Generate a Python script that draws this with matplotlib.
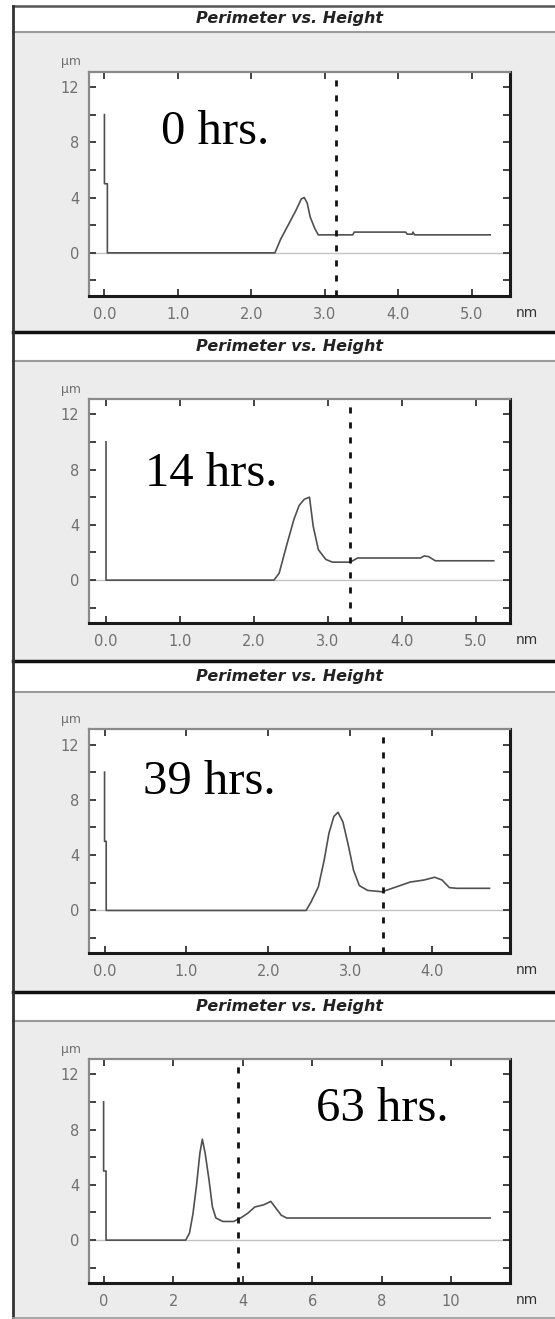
import matplotlib
matplotlib.use("Agg")
import matplotlib.pyplot as plt
from matplotlib.patches import Rectangle
from matplotlib.lines import Line2D

W, H = 555, 1319

# ---- data ----
labels_hrs = ["0 hrs.", "14 hrs.", "39 hrs.", "63 hrs."]

x0 = [0, 0, 0.04, 0.04, 2.32, 2.40, 2.50, 2.60, 2.68, 2.72, 2.76, 2.80, 2.86, 2.91,
      3.38, 3.40, 4.10, 4.12, 4.19, 4.20, 4.22, 5.25]
y0 = [10, 5, 5, 0, 0, 1.0, 2.0, 3.0, 3.9, 4.0, 3.6, 2.6, 1.8, 1.3,
      1.3, 1.5, 1.5, 1.35, 1.35, 1.5, 1.3, 1.3]

x14 = [0, 0, 2.27, 2.34, 2.44, 2.54, 2.61, 2.68, 2.75, 2.80, 2.87, 2.97, 3.06,
       3.30, 3.40, 4.25, 4.30, 4.36, 4.45, 5.24]
y14 = [10, 0, 0, 0.5, 2.5, 4.4, 5.4, 5.85, 6.0, 3.9, 2.2, 1.5, 1.3,
       1.3, 1.6, 1.6, 1.75, 1.7, 1.4, 1.4]

x39 = [0, 0, 0.02, 0.02, 2.46, 2.52, 2.61, 2.68, 2.74, 2.80, 2.85, 2.91, 2.98, 3.04,
       3.11, 3.21, 3.39, 3.56, 3.73, 3.90, 4.03, 4.12, 4.21, 4.30, 4.70]
y39 = [10, 5, 5, 0, 0, 0.6, 1.7, 3.6, 5.6, 6.8, 7.1, 6.4, 4.6, 2.9,
       1.8, 1.45, 1.35, 1.7, 2.05, 2.2, 2.4, 2.2, 1.65, 1.6, 1.6]

x63 = [0, 0, 0.07, 0.07, 2.36, 2.47, 2.57, 2.67, 2.77, 2.84, 2.92, 3.03, 3.13, 3.23,
       3.43, 3.74, 3.94, 4.15, 4.35, 4.60, 4.81, 4.96, 5.11, 5.27, 11.12]
y63 = [10, 5, 5, 0, 0, 0.5, 1.9, 3.9, 6.3, 7.3, 6.3, 4.4, 2.4, 1.6,
       1.35, 1.35, 1.6, 1.95, 2.4, 2.55, 2.8, 2.3, 1.8, 1.6, 1.6]

xs = [x0, x14, x39, x63]
ys = [y0, y14, y39, y63]
cursor_x = [3.15, 3.30, 3.40, 3.86]
xlims = [(-0.21, 5.52), (-0.23, 5.46), (-0.19, 4.95), (-0.42, 11.69)]
xticks = [[0, 1, 2, 3, 4, 5], [0, 1, 2, 3, 4, 5], [0, 1, 2, 3, 4], [0, 2, 4, 6, 8, 10]]
xticklabels = [["0.0", "1.0", "2.0", "3.0", "4.0", "5.0"],
               ["0.0", "1.0", "2.0", "3.0", "4.0", "5.0"],
               ["0.0", "1.0", "2.0", "3.0", "4.0"],
               ["0", "2", "4", "6", "8", "10"]]
yticks = [-2, 0, 2, 4, 6, 8, 10, 12]
yticklabels = ["", "0", "", "4", "", "8", "", "12"]
label_pos = [(0.77, 7.9), (0.53, 6.8), (0.475, 8.44), (6.11, 8.6)]

# panel geometry in pixels (top origin)
sep_y = [6, 331.7, 660.7, 991.7]
title_bottom = [32, 361, 691.7, 1021]
plot_top = [71.7, 399, 729.3, 1059]
plot_h = 224
panel_bottom = 1318
plot_left, plot_right = 89, 510

fig = plt.figure(figsize=(W / 100, H / 100), dpi=100)
fig.patch.set_facecolor("white")


def fx(px):
    return px / W


def fy(py):
    return 1 - py / H


# gray panel backgrounds and white title bars
fig.patches.append(Rectangle((fx(13), fy(panel_bottom)), fx(W - 13), fy(sep_y[0]) - fy(panel_bottom),
                             transform=fig.transFigure, facecolor="#ececec", edgecolor="none", zorder=-2))
for i in range(4):
    fig.patches.append(Rectangle((fx(13), fy(title_bottom[i])), fx(W - 13),
                                 fy(sep_y[i]) - fy(title_bottom[i]),
                                 transform=fig.transFigure, facecolor="white", edgecolor="none", zorder=-1))
    fig.lines.append(Line2D([fx(13), 1], [fy(title_bottom[i])] * 2, transform=fig.transFigure,
                            color="#9a9a9a", lw=1.5))
    fig.lines.append(Line2D([fx(13), 1], [fy(sep_y[i])] * 2, transform=fig.transFigure,
                            color="#111111" if i else "#555555", lw=2.5 if i else 1.8))
    fig.text(fx(290), fy((sep_y[i] + title_bottom[i]) / 2), "Perimeter vs. Height",
             ha="center", va="center", fontsize=11.5, fontweight="bold", fontstyle="italic",
             color="#222222")
fig.lines.append(Line2D([fx(13), fx(13)], [fy(sep_y[0]), fy(panel_bottom)], transform=fig.transFigure,
                        color="#333333", lw=2))
fig.lines.append(Line2D([fx(13), 1], [fy(panel_bottom)] * 2, transform=fig.transFigure,
                        color="#9a9a9a", lw=1.2))

for i in range(4):
    ax = fig.add_axes([fx(plot_left), fy(plot_top[i] + plot_h), fx(plot_right - plot_left), plot_h / H])
    ax.set_facecolor("white")
    ax.axhline(0, color="#c4c4c4", lw=1, zorder=1)
    ax.plot(xs[i], ys[i], color="#505050", lw=1.2, zorder=2)
    ax.axvline(cursor_x[i], color="#111111", lw=2, linestyle=(0, (2.2, 3.2)), zorder=3)
    ax.set_xlim(*xlims[i])
    ax.set_ylim(-3.1, 13.1)
    ax.set_xticks(xticks[i])
    ax.set_xticklabels(xticklabels[i])
    ax.set_yticks(yticks)
    ax.set_yticklabels(yticklabels)
    ax.tick_params(axis="both", direction="in", length=5, width=1.3, color="#333333",
                   labelsize=10.5, labelcolor="#707070", top=True, right=True)
    ax.tick_params(axis="x", pad=8)
    ax.tick_params(axis="y", pad=7)
    for side in ["left", "top"]:
        ax.spines[side].set_color("#8a8a8a")
        ax.spines[side].set_linewidth(1.6)
    for side in ["right", "bottom"]:
        ax.spines[side].set_color("#1a1a1a")
        ax.spines[side].set_linewidth(2.2)
    ax.text(label_pos[i][0], label_pos[i][1], labels_hrs[i], family="Liberation Serif",
            fontsize=35, ha="left", va="baseline", color="black", zorder=4)
    fig.text(fx(81), fy(plot_top[i] - 10), "\u00b5m", ha="right", va="center",
             fontsize=9, color="#707070")
    fig.text(fx(527), fy(plot_top[i] + plot_h + 17), "nm", ha="center", va="center",
             fontsize=10, color="#333333")

fig.savefig("out.png", dpi=100)
